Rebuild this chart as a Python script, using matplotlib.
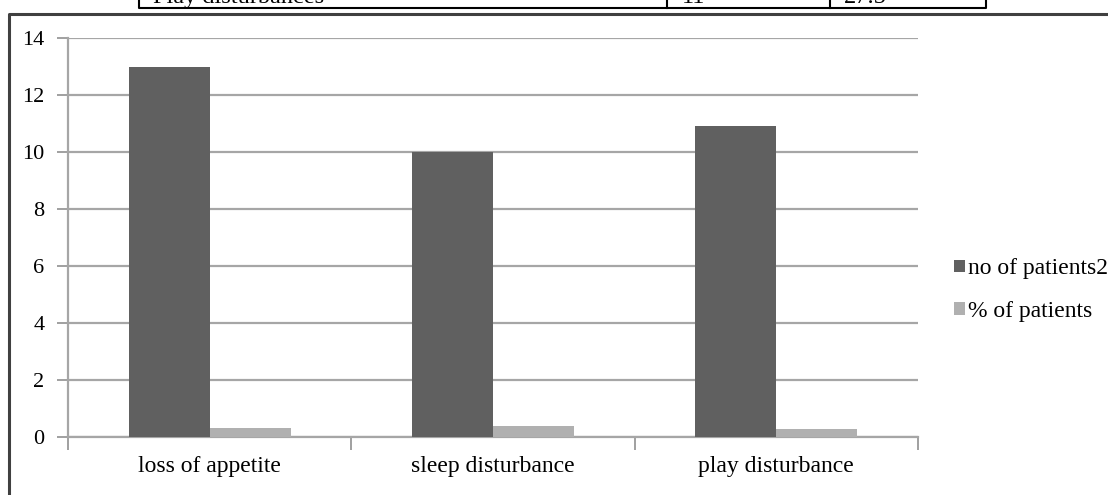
import matplotlib.pyplot as plt
from matplotlib.lines import Line2D
import numpy as np

categories = ["loss of appetite", "sleep disturbance", "play disturbance"]
no_of_patients = [13, 10, 10.9]
pct_of_patients = [0.325, 0.4, 0.275]
series_names = ["no of patients2", "% of patients"]
yticks = [0, 2, 4, 6, 8, 10, 12, 14]
table_row = ["Play disturbances", "11", "27.5"]

plt.rcParams['font.family'] = ['Liberation Serif', 'DejaVu Serif']

W, H = 1108, 495
fig = plt.figure(figsize=(W / 100, H / 100), dpi=100)
ax = fig.add_axes([68 / W, 1 - 437 / H, (918 - 68) / W, (437 - 38) / H])

x = np.arange(len(categories))
bw = 0.286
ax.bar(x - bw / 2, no_of_patients, bw, color='#606060', label=series_names[0], zorder=3)
ax.bar(x + bw / 2, pct_of_patients, bw, color='#b0b0b0', label=series_names[1], zorder=3)

ax.set_xlim(-0.5, 2.5)
ax.set_ylim(0, 14)
ax.set_yticks(yticks)
ax.yaxis.grid(True, color='#a6a6a6', linewidth=1.6, zorder=0)
ax.set_xticks(x)
ax.set_xticklabels(categories, fontsize=17)
ax.set_xticks([-0.5, 0.5, 1.5, 2.5], minor=True)
ax.tick_params(axis='x', which='major', length=0, pad=14)
ax.tick_params(axis='x', which='minor', length=9, width=1.4, color='#a0a0a0')
ax.tick_params(axis='y', length=8, width=1.4, color='#a0a0a0', pad=9, labelsize=16)
for s in ['top', 'right']:
    ax.spines[s].set_visible(False)
for s in ['left', 'bottom']:
    ax.spines[s].set_color('#a6a6a6')
    ax.spines[s].set_linewidth(1.6)

fig.legend(loc='center left', bbox_to_anchor=(954 / W, 1 - 290 / H),
           bbox_transform=fig.transFigure, frameon=False,
           handlelength=0.45, handleheight=0.45, handletextpad=0.15,
           labelspacing=0.9, fontsize=17, borderaxespad=0, borderpad=0)

# chart border (cut at the right and bottom)
fig.add_artist(Line2D([9 / W, 9 / W, 1.0], [0.0, 1 - 13.5 / H, 1 - 13.5 / H],
                      transform=fig.transFigure, color='#404040', linewidth=2.2))

# the cut-off table row above the chart
ty = 1 - 8 / H
fig.add_artist(Line2D([139 / W, 139 / W, 986 / W, 986 / W], [1.0, ty, ty, 1.0],
                      transform=fig.transFigure, color='black', linewidth=1.5))
for xd in [667, 830]:
    fig.add_artist(Line2D([xd / W, xd / W], [ty, 1.0],
                          transform=fig.transFigure, color='black', linewidth=1.5))
for xt, txt in zip([153, 682, 844], table_row):
    fig.text(xt / W, 1 - 3 / H, txt, fontsize=17.5, va='baseline')

plt.savefig('out.png', dpi=100)
